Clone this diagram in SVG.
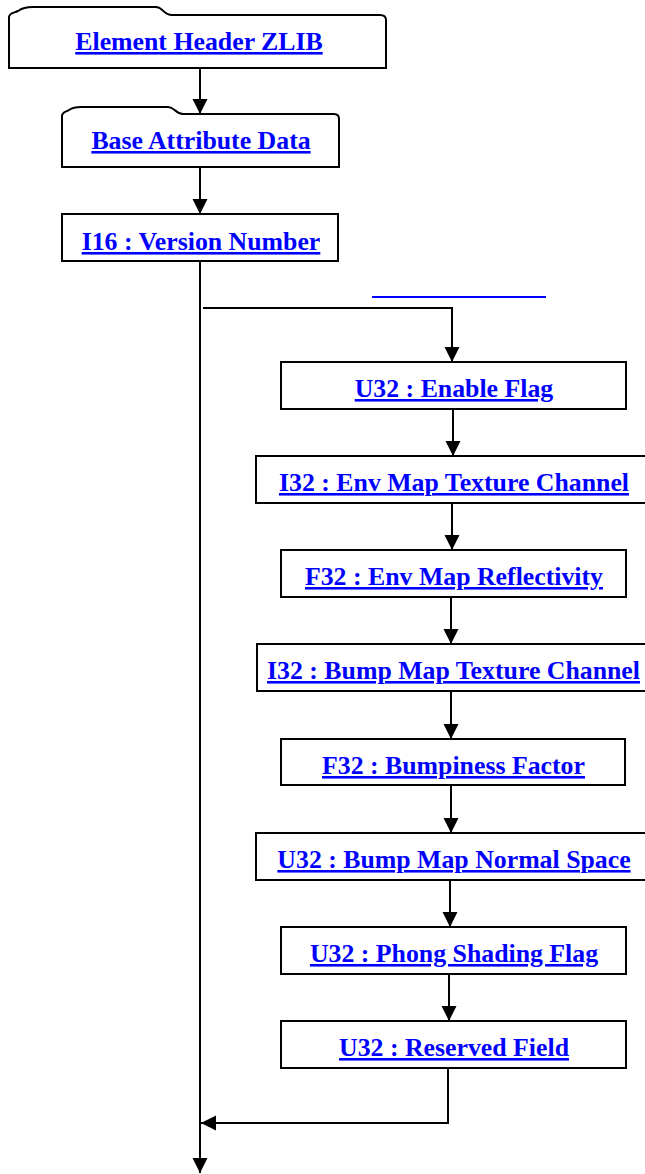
<svg xmlns="http://www.w3.org/2000/svg" width="645" height="1174" viewBox="0 0 645 1174">
<style>
.box{fill:#fff;stroke:#000;stroke-width:2}
.lbl{font-family:"Liberation Serif","Times New Roman",serif;font-weight:bold;font-size:25.8px;fill:#0000ff;text-anchor:middle;text-decoration:underline}
.con{fill:none;stroke:#000;stroke-width:2}
</style>
<defs>
<marker id="ah" markerUnits="userSpaceOnUse" markerWidth="16" markerHeight="16" refX="15" refY="8" orient="auto">
<path d="M0,0.5 L15,8 L0,15.5 z" fill="#000"/>
</marker>
</defs>
<rect width="645" height="1174" fill="#fff"/>
<g id="connectors">
<path class="con" d="M200,68 L200,114" marker-end="url(#ah)"/>
<path class="con" d="M200,167 L200,214" marker-end="url(#ah)"/>
<path class="con" d="M200,261 L200,1173" marker-end="url(#ah)"/>
<path class="con" d="M203,308 L452,308 L452,362" marker-end="url(#ah)"/>
<path class="con" d="M453,409 L453,456" marker-end="url(#ah)"/>
<path class="con" d="M452,503 L452,550" marker-end="url(#ah)"/>
<path class="con" d="M451,597 L451,644" marker-end="url(#ah)"/>
<path class="con" d="M451,691 L451,739" marker-end="url(#ah)"/>
<path class="con" d="M451,785 L451,833" marker-end="url(#ah)"/>
<path class="con" d="M450,880 L450,927" marker-end="url(#ah)"/>
<path class="con" d="M449,974 L449,1021" marker-end="url(#ah)"/>
<path class="con" d="M448,1068 L448,1123 L201,1123" marker-end="url(#ah)"/>
</g>
<line x1="372" y1="297" x2="546" y2="297" stroke="#0000ff" stroke-width="2"/>
<g id="n-element-header">
<path class="box" d="M9,68 L9,17 C9,13 14,13 18,11 C22,8 26,7 33,7 L156,7 C163,7 163,15 172,15 L380,15 C384,15 386,17 386,20 L386,68 Z"/>
<text class="lbl" x="199" y="50">Element Header ZLIB</text>
</g>
<g id="n-base-attr">
<path class="box" d="M62,167 L62,116 C62,112 66,112 69,110 C72,108 75,107 81,107 L168,107 C175,107 175,114 183,114 L334,114 C337,114 339,116 339,119 L339,167 Z"/>
<text class="lbl" x="201" y="149">Base Attribute Data</text>
</g>
<g id="n-version">
<rect class="box" x="62" y="214" width="276" height="47"/>
<text class="lbl" x="201" y="250">I16 : Version Number</text>
</g>
<g id="n-enable">
<rect class="box" x="281" y="362" width="345" height="47"/>
<text class="lbl" x="454" y="397">U32 : Enable Flag</text>
</g>
<g id="n-env-tex">
<rect class="box" x="256" y="456" width="390" height="47"/>
<text class="lbl" x="454" y="491">I32 : Env Map Texture Channel</text>
</g>
<g id="n-env-refl">
<rect class="box" x="281" y="550" width="345" height="47"/>
<text class="lbl" x="454" y="585">F32 : Env Map Reflectivity</text>
</g>
<g id="n-bump-tex">
<rect class="box" x="257" y="644" width="390" height="47"/>
<text class="lbl" x="453.5" y="679">I32 : Bump Map Texture Channel</text>
</g>
<g id="n-bumpiness">
<rect class="box" x="281" y="739" width="344" height="46"/>
<text class="lbl" x="453.5" y="774">F32 : Bumpiness Factor</text>
</g>
<g id="n-bump-normal">
<rect class="box" x="256" y="833" width="390" height="47"/>
<text class="lbl" x="454" y="868">U32 : Bump Map Normal Space</text>
</g>
<g id="n-phong">
<rect class="box" x="281" y="927" width="345" height="47"/>
<text class="lbl" x="454" y="962">U32 : Phong Shading Flag</text>
</g>
<g id="n-reserved">
<rect class="box" x="281" y="1021" width="345" height="47"/>
<text class="lbl" x="454" y="1056">U32 : Reserved Field</text>
</g>
</svg>
